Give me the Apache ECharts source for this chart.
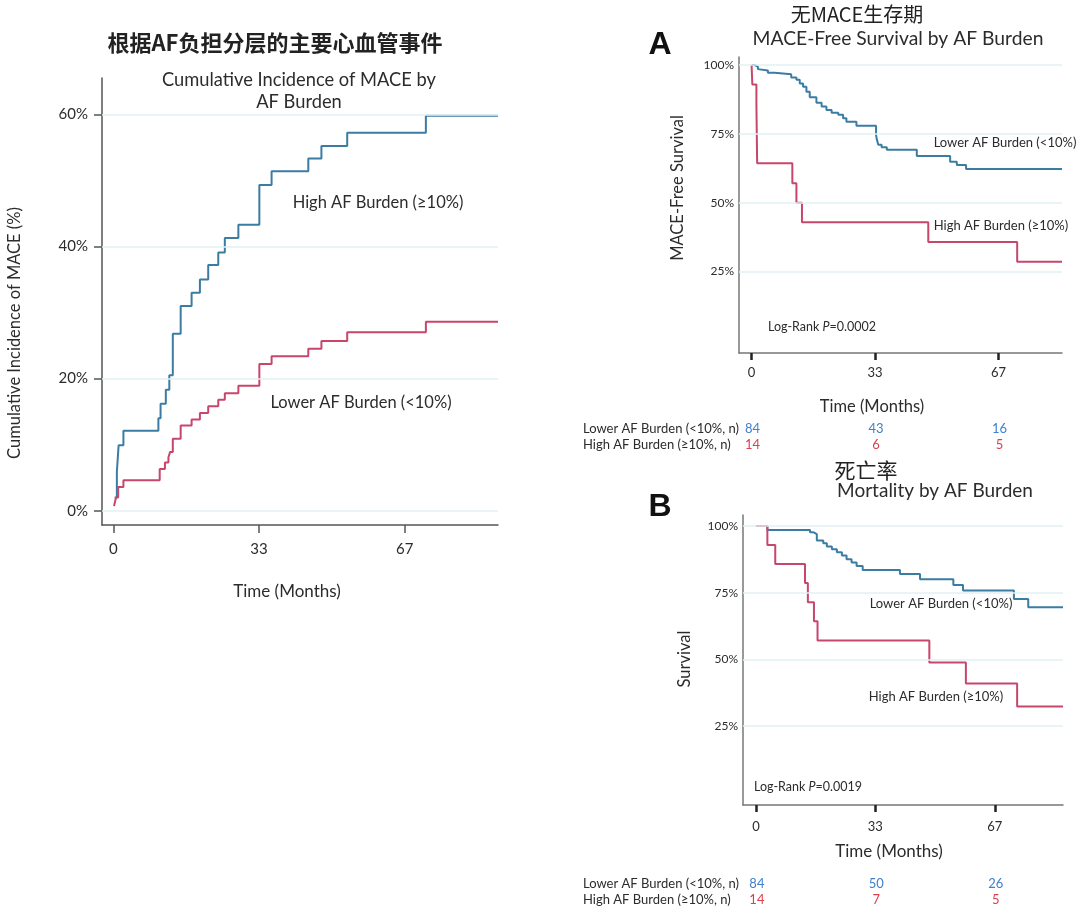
<!DOCTYPE html>
<html>
<head>
<meta charset="utf-8">
<script src="https://cdn.jsdelivr.net/npm/echarts@6/dist/echarts.min.js"></script>
<style>
html,body{margin:0;padding:0;background:#fff;}
#c{width:1080px;height:916px;}
</style>
</head>
<body>
<div id="c"></div>
<script>
// ---------- DATA ----------
// Left: cumulative incidence of MACE (%), [month, %]
const cumHigh = [[0.3,2.0],[0.8,5.9],[1.2,9.9],[2.3,12.1],[10.3,14.0],[10.8,16.2],[12.0,18.3],[12.8,20.5],[13.6,26.8],[15.4,31.0],[17.9,33.0],[19.8,35.0],[21.7,37.2],[24.0,39.1],[25.5,41.3],[28.6,43.3],[33.4,49.3],[36.2,51.4],[44.6,53.3],[47.6,55.2],[53.5,57.2],[71.5,59.8],[88.0,59.8]];
const cumLower = [[0.15,0.7],[0.6,2.0],[1.1,3.6],[2.3,4.6],[10.6,6.3],[11.8,7.3],[12.6,8.1],[13.0,8.9],[13.6,10.9],[15.4,12.9],[17.9,13.8],[19.8,14.8],[21.7,15.8],[24.0,16.8],[25.5,17.8],[28.6,18.9],[33.4,22.2],[36.2,23.4],[44.6,24.5],[47.6,25.7],[53.5,27.0],[71.5,28.6],[88.0,28.6]];
// A: MACE-free survival (%)
const mfsLower = [[0,100],[0.8,99.4],[1.7,98.5],[2.2,98.0],[4.4,97.2],[6.2,96.6],[10.7,95.5],[12.1,94.6],[13.0,93.3],[13.9,92.1],[14.8,90.3],[15.7,88.3],[17.5,86.3],[18.9,84.9],[20.2,83.7],[21.6,82.7],[23.4,81.9],[24.7,80.7],[25.6,79.4],[28.3,77.9],[33.6,74.6],[33.8,73.0],[34.2,71.0],[35.1,70.1],[36.5,69.2],[44.6,67.0],[53.6,64.9],[55.4,63.7],[57.9,62.2],[83.8,62.2]];
const mfsHigh = [[0,100],[0.2,92.9],[1.3,85.7],[1.5,64.3],[11.0,57.1],[12.1,50.0],[13.6,42.9],[47.7,35.7],[71.7,28.6],[83.8,28.6]];
// B: overall survival (%)
const osLower = [[0,100],[3.2,98.5],[15.1,97.6],[16.1,96.9],[17.0,94.5],[18.8,93.5],[19.8,92.3],[21.2,91.3],[22.6,90.1],[24.0,88.9],[25.3,87.5],[26.7,86.3],[28.1,85.0],[29.8,83.5],[40.2,82.0],[45.8,80.0],[55.1,77.9],[57.8,75.8],[72.0,72.6],[76.0,69.5],[85.7,69.5]];
const osHigh = [[0,100],[3.2,92.9],[5.4,85.7],[13.7,78.6],[14.5,71.4],[16.2,64.3],[17.2,57.1],[48.4,48.8],[58.6,40.9],[72.9,32.3],[85.7,32.3]];
// tick values / labels
const timeTicks = [0, 100/3, 200/3];
const cumTicks = [0, 20, 40, 60];
const survTicks = [25, 50, 75, 100];
// numbers at risk
const riskA_lower = [84, 43, 16];
const riskA_high = [14, 6, 5];
const riskB_lower = [84, 50, 26];
const riskB_high = [14, 7, 5];

// ---------- STYLE ----------
const FONT = 'Lato';
const BLUE = '#3b7ca3';
const RED = '#c8466c';
const NBLUE = '#3f7fcc';
const NRED = '#d8414f';
const TXT = '#2c2c2c';
const GRIDC = '#e2f0f3';

const chart = echarts.init(document.getElementById('c'), null, {renderer:'canvas'});

function xAxisCfg(idx, min, max, opts) {
  return {
    gridIndex: idx, type: 'value', min: min, max: max,
    axisLine: {show: true, onZero: false, lineStyle: {color: opts.lineColor, width: 1.5}},
    axisTick: {show: true, customValues: timeTicks, length: opts.tickLen, lineStyle: {color: opts.tickColor, width: opts.tickWidth}},
    axisLabel: {customValues: timeTicks, formatter: v => String(Math.round(v)), fontFamily: FONT, fontSize: opts.fs, color: TXT, margin: opts.margin},
    splitLine: {show: false}
  };
}
function yAxisCfg(idx, min, max, ticks, opts) {
  return {
    gridIndex: idx, type: 'value', min: min, max: max,
    axisLine: {show: true, onZero: false, lineStyle: {color: opts.lineColor, width: 1.5}},
    axisTick: {show: opts.tick, customValues: ticks, length: 8, lineStyle: {color: opts.lineColor, width: 1.5}},
    axisLabel: {customValues: ticks, formatter: v => v + '%', fontFamily: FONT, fontSize: opts.fs, color: TXT, margin: opts.margin},
    splitLine: {show: false}
  };
}
function gridLines(ticks) {
  return {silent: true, symbol: 'none', label: {show: false},
    lineStyle: {color: GRIDC, width: 1.5, type: 'solid'},
    data: ticks.map(v => ({yAxis: v}))};
}
function stepSeries(data, color, xi, yi, ticks) {
  const s = {type: 'line', step: 'end', data: data, xAxisIndex: xi, yAxisIndex: yi,
    showSymbol: false, symbol: 'none', lineStyle: {color: color, width: 2}, itemStyle: {color: color},
    animation: false, z: 3};
  if (ticks) s.markLine = gridLines(ticks);
  return s;
}

function txt(x, y, text, o) {
  o = o || {};
  return {type: 'text', x: x, y: y, rotation: o.rot || 0,
    style: {text: text, fontFamily: o.ff || FONT, fontSize: o.fs || 13, fill: o.color || TXT,
      fontWeight: o.fw || 'normal', fontStyle: o.fst || 'normal',
      align: o.align || 'center', verticalAlign: 'middle', rich: o.rich}};
}

const option = {
  backgroundColor: '#fff',
  animation: false,
  grid: [
    {left: 102, top: 78, width: 396, height: 447},
    {left: 739, top: 57, width: 323, height: 296},
    {left: 743, top: 515, width: 320, height: 290}
  ],
  xAxis: [
    xAxisCfg(0, -2.6, 88, {lineColor: '#555', tickColor: '#555', tickLen: 8, tickWidth: 1.5, fs: 15, margin: 17}),
    xAxisCfg(1, -3.4, 83.8, {lineColor: '#777', tickColor: '#222', tickLen: 7, tickWidth: 2.5, fs: 13, margin: 13}),
    xAxisCfg(2, -3.6, 85.7, {lineColor: '#777', tickColor: '#222', tickLen: 7, tickWidth: 2.5, fs: 13, margin: 15})
  ],
  yAxis: [
    yAxisCfg(0, -2.16, 65.5, cumTicks, {lineColor: '#555', tick: true, fs: 15, margin: 14}),
    yAxisCfg(1, -4.57, 102.9, survTicks, {lineColor: '#777', tick: false, fs: 12, margin: 5}),
    yAxisCfg(2, -4.6, 104.1, survTicks, {lineColor: '#777', tick: false, fs: 12, margin: 5})
  ],
  series: [
    stepSeries(cumHigh, BLUE, 0, 0, cumTicks),
    stepSeries(cumLower, RED, 0, 0),
    stepSeries(mfsLower, BLUE, 1, 1, survTicks),
    stepSeries(mfsHigh, RED, 1, 1),
    stepSeries(osLower, BLUE, 2, 2, survTicks),
    stepSeries(osHigh, RED, 2, 2)
  ]
};
chart.setOption(option);

// ---------- TEXTS ----------
const g = [];
const rich125 = {n: {fontFamily: FONT, fontSize: 12.5, fill: TXT}, i: {fontFamily: FONT, fontSize: 12.5, fontStyle: 'italic', fill: TXT}};
// Left panel
g.push(txt(275, 43, '根据AF负担分层的主要心血管事件', {ff: '"Noto Sans CJK SC"', fs: 22, fw: 'bold', color: '#222'}));
g.push(txt(299, 80, 'Cumulative Incidence of MACE by', {fs: 18.3}));
g.push(txt(299, 102, 'AF Burden', {fs: 18.3}));
g.push(txt(15, 333, 'Cumulative Incidence of MACE (%)', {fs: 16.5, rot: Math.PI/2}));
g.push(txt(287, 592, 'Time (Months)', {fs: 17}));
g.push(txt(378, 203, 'High AF Burden (≥10%)', {fs: 16.5}));
g.push(txt(361, 403, 'Lower AF Burden (<10%)', {fs: 16.5}));
// Panel A
g.push(txt(857, 14, '无MACE生存期', {ff: '"Noto Sans CJK SC"', fs: 20, color: '#222'}));
g.push(txt(898, 39, 'MACE-Free Survival by AF Burden', {fs: 19.3}));
g.push(txt(660, 45, 'A', {ff: '"Liberation Sans"', fs: 32, fw: 'bold', color: '#111'}));
g.push(txt(678, 188, 'MACE-Free Survival', {fs: 16.5, rot: Math.PI/2}));
g.push(txt(872, 407, 'Time (Months)', {fs: 16.5}));
g.push(txt(1005, 143, 'Lower AF Burden (<10%)', {fs: 13}));
g.push(txt(1001, 226, 'High AF Burden (≥10%)', {fs: 13}));
g.push(txt(822, 327, '{n|Log-Rank }{i|P}{n|=0.0002}', {rich: rich125}));
// Panel B
g.push(txt(866, 470, '死亡率', {ff: '"Noto Sans CJK SC"', fs: 21, color: '#222'}));
g.push(txt(935, 491, 'Mortality by AF Burden', {fs: 19}));
g.push(txt(660, 507, 'B', {ff: '"Liberation Sans"', fs: 32, fw: 'bold', color: '#111'}));
g.push(txt(685, 659, 'Survival', {fs: 16.5, rot: Math.PI/2}));
g.push(txt(889, 852, 'Time (Months)', {fs: 17}));
g.push(txt(941, 604, 'Lower AF Burden (<10%)', {fs: 13}));
g.push(txt(936, 697, 'High AF Burden (≥10%)', {fs: 13}));
g.push(txt(808, 787, '{n|Log-Rank }{i|P}{n|=0.0019}', {rich: rich125}));
// Risk tables
g.push(txt(583, 429, 'Lower AF Burden (<10%, n)', {fs: 13, align: 'left'}));
g.push(txt(583, 445, 'High AF Burden (≥10%, n)', {fs: 13, align: 'left'}));
g.push(txt(583, 884, 'Lower AF Burden (<10%, n)', {fs: 13, align: 'left'}));
g.push(txt(583, 900, 'High AF Burden (≥10%, n)', {fs: 13, align: 'left'}));
function riskRow(arr, xAxisIndex, y, color) {
  arr.forEach((n, i) => {
    const x = chart.convertToPixel({xAxisIndex: xAxisIndex}, timeTicks[i]);
    g.push(txt(x + 1, y, String(n), {fs: 13, color: color}));
  });
}
riskRow(riskA_lower, 1, 429, NBLUE);
riskRow(riskA_high, 1, 445, NRED);
riskRow(riskB_lower, 2, 884, NBLUE);
riskRow(riskB_high, 2, 900, NRED);

chart.setOption({graphic: {elements: g}});
</script>
</body>
</html>
